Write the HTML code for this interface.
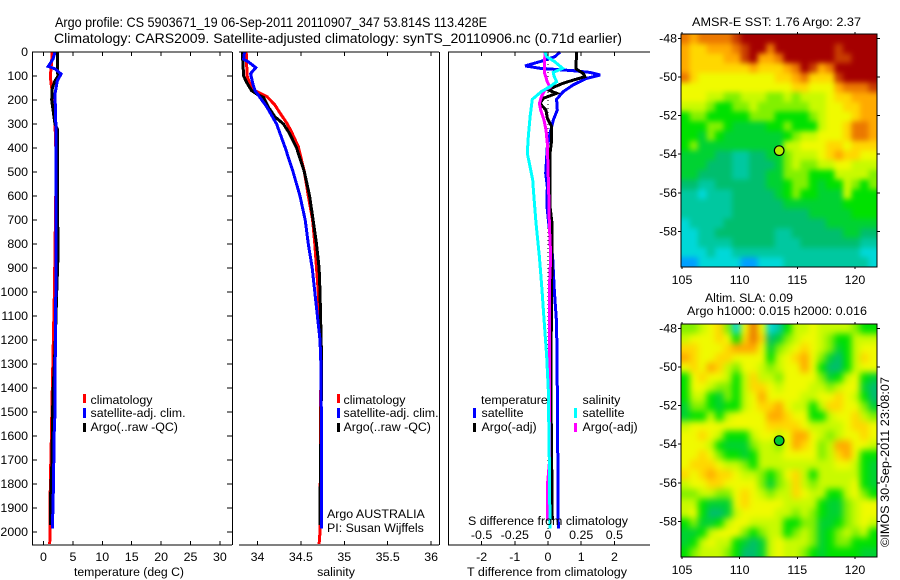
<!DOCTYPE html>
<html><head><meta charset="utf-8"><title>Argo profile</title>
<style>
html,body{margin:0;padding:0;background:#fff;}
svg{display:block;}
text{font-family:"Liberation Sans",sans-serif;font-size:12.4px;fill:#000;}
.t{font-size:13.6px;}
</style></head>
<body>
<svg id="chart" width="900" height="580" viewBox="0 0 900 580" xmlns="http://www.w3.org/2000/svg">
<defs>
<filter id="soft-sst" x="-10%" y="-10%" width="120%" height="120%" color-interpolation-filters="sRGB"><feGaussianBlur stdDeviation="2.6"/></filter>
<filter id="soft-sla" x="-10%" y="-10%" width="120%" height="120%" color-interpolation-filters="sRGB"><feGaussianBlur stdDeviation="3.4"/></filter>
<clipPath id="clip-sst"><rect x="681" y="34" width="196" height="233"/></clipPath>
<clipPath id="clip-sla"><rect x="681" y="324" width="196" height="233"/></clipPath>
</defs>
<rect width="900" height="580" fill="#fff"/>
<text class="t" x="55" y="27" textLength="432" lengthAdjust="spacingAndGlyphs">Argo profile: CS 5903671_19 06-Sep-2011 20110907_347 53.814S 113.428E</text>
<text class="t" x="54" y="43" textLength="568" lengthAdjust="spacingAndGlyphs">Climatology: CARS2009. Satellite-adjusted climatology: synTS_20110906.nc (0.71d earlier)</text>
<g id="panels"></g>
<g id="maps"></g>

<g>
<rect x="83" y="394" width="3" height="9" fill="#f00"/>
<rect x="83" y="408" width="3" height="10" fill="#00f"/>
<rect x="83" y="423" width="3" height="9" fill="#000"/>
<text x="90.5" y="404">climatology</text>
<text x="90.5" y="417">satellite-adj. clim.</text>
<text x="90.5" y="431">Argo(..raw -QC)</text>
</g>
<g>
<rect x="337" y="394" width="3" height="9" fill="#f00"/>
<rect x="337" y="408" width="3" height="10" fill="#00f"/>
<rect x="337" y="423" width="3" height="9" fill="#000"/>
<text x="343.5" y="404">climatology</text>
<text x="343.5" y="417">satellite-adj. clim.</text>
<text x="343.5" y="431">Argo(..raw -QC)</text>
<text x="327" y="518">Argo AUSTRALIA</text>
<text x="327" y="532">PI: Susan Wijffels</text>
</g>
<g>
<rect x="473" y="408" width="3" height="10" fill="#00f"/>
<rect x="473" y="423" width="3" height="9" fill="#000"/>
<rect x="574" y="408" width="3" height="10" fill="#0ff"/>
<rect x="574" y="423" width="3" height="9" fill="#f0f"/>
<text x="481" y="404">temperature</text>
<text x="481.5" y="417">satellite</text>
<text x="481.5" y="431">Argo(-adj)</text>
<text x="582.5" y="404">salinity</text>
<text x="582.5" y="417">satellite</text>
<text x="582.5" y="431">Argo(-adj)</text>
<text x="468" y="525" textLength="160" lengthAdjust="spacingAndGlyphs">S difference from climatology</text>
</g>
<text x="74" y="576" textLength="110" lengthAdjust="spacingAndGlyphs">temperature (deg C)</text>
<text x="336" y="576" text-anchor="middle">salinity</text>
<text x="467" y="576" textLength="160" lengthAdjust="spacingAndGlyphs">T difference from climatology</text>
<text x="692" y="26" textLength="169" lengthAdjust="spacingAndGlyphs">AMSR-E SST: 1.76 Argo: 2.37</text>
<text x="705" y="302" textLength="88" lengthAdjust="spacingAndGlyphs">Altim. SLA: 0.09</text>
<text x="687" y="315" textLength="180" lengthAdjust="spacingAndGlyphs">Argo h1000: 0.015 h2000: 0.016</text>
<text transform="translate(889,547) rotate(-90)" textLength="170" lengthAdjust="spacingAndGlyphs" x="0" y="0">©IMOS 30-Sep-2011 23:08:07</text>
</svg>
<script>
// ---- tick labels ----
const depthTicks = [0,100,200,300,400,500,600,700,800,900,1000,1100,1200,1300,1400,1500,1600,1700,1800,1900,2000];
const tempTicks = [0,5,10,15,20,25,30];
const salTicks = [34,34.5,35,35.5,36];
const salTickLabels = ['34','34.5','35','35.5','36'];
const tDiffTicks = [-2,-1,0,1,2];
const sDiffTicks = [-0.5,-0.25,0,0.25,0.5];
const sDiffTickLabels = ['-0.5','-0.25','0','0.25','0.5'];
const lonTicks = [105,110,115,120];
const latTicks = [-48,-50,-52,-54,-56,-58];
const argoLon = 113.428;
const argoLat = -53.814;

// ---- temperature profiles ----
const climTempDepth = [0,20,50,75,100,125,150,175,200,250,300,400,500,1000,1400,1600,1800,2000,2050];
const climTemp = [1.45,1.45,1.35,1.25,1.15,1.25,1.4,1.5,1.7,1.85,1.95,2.1,2.15,1.85,1.5,1.35,1.15,1.1,1.05];
const satTempDepth = [0,10,30,60,70,92,120,175,300,1000,1400,1500,1600,1800,1950,1985];
const satTemp = [1.85,1.85,1.6,0.8,1.95,3.0,2.35,1.95,2.1,2.1,1.95,1.95,1.8,1.7,1.55,1.5];
const argoTempDepth = [0,80,100,120,150,200,250,300,320,860,1000,1200,1300,1400,1500,1700,1850,1970];
const argoTemp = [2.35,2.35,2.5,1.95,1.5,1.4,1.67,1.95,2.35,2.45,2.25,2.0,1.85,1.65,1.55,1.45,1.2,1.15];

// ---- salinity profiles ----
const climSalDepth = [0,100,150,165,186,221,255,297,332,394,500,600,700,800,900,1000,1300,2000,2050];
const climSal = [33.87,33.88,33.93,33.99,34.11,34.2,34.26,34.34,34.39,34.47,34.54,34.585,34.635,34.66,34.68,34.7,34.73,34.72,34.71];
const satSalDepth = [0,30,40,65,90,130,160,190,230,300,400,500,600,700,800,900,1000,1200,1300,1500,1985];
const satSal = [33.85,33.84,33.89,33.98,33.92,33.945,33.97,34.03,34.11,34.22,34.32,34.41,34.49,34.55,34.585,34.63,34.66,34.72,34.73,34.735,34.735];
const argoSalDepth = [0,100,130,160,175,190,230,270,300,340,400,500,600,700,800,900,1000,1300,1900,1970];
const argoSal = [33.825,33.84,33.88,33.93,33.99,34.07,34.125,34.2,34.3,34.37,34.45,34.54,34.6,34.64,34.68,34.71,34.72,34.74,34.72,34.72];

// ---- difference profiles ----
const satTDiffDepth = [0,19,40,58,68,78,85,96,110,137,165,197,242,283,339,394,505,561,644,713,853,992,1130,1408,1985];
const satTDiff = [0.36,0.21,-0.24,-0.69,-0.24,0.76,1.26,1.57,1.16,0.76,0.46,0.26,0.28,0.16,0.06,-0.02,-0.07,-0.02,-0.03,0.02,0.14,0.19,0.26,0.28,0.31];
const argoTDiffDepth = [0,70,89,103,117,130,144,158,172,193,214,242,276,311,367,422,644,713,992,1269,1450,1950];
const argoTDiff = [0.86,0.84,1.06,1.11,0.76,0.46,0.21,0,0.26,-0.14,-0.24,-0.06,-0.02,0.11,0.11,0.06,0.06,0.12,0.11,0.09,0.09,0.13];
const satSDiffDepth = [0,19,40,68,85,100,124,144,165,197,269,353,422,464,533,575,713,853,992,1130,1269,1408,1700,1985];
const satSDiff = [-0.023,-0.01,0.05,0.11,0.04,0.045,0.065,0.015,-0.05,-0.118,-0.135,-0.148,-0.156,-0.14,-0.115,-0.11,-0.09,-0.065,-0.045,-0.028,-0.01,0.002,0.01,0.015];
const argoSDiffDepth = [0,33,89,124,147,158,186,214,242,283,325,380,644,713,853,992,1269,1700,1800,1950];
const argoSDiff = [-0.023,-0.025,-0.025,-0.005,0.015,-0.023,-0.05,-0.065,-0.055,-0.03,-0.015,-0.005,0.008,0.01,0.02,0.01,0.01,0.012,-0.004,-0.004];

// ---- map grids: colour-level values, north to south, 105E to 122E ----
const sstGrid = [
[11,10,11,11,11,11,12,13,13,13,13,13,13,13,13,13,13,13,13,13,13,13,13],
[10,9,9,10,10,10,11,12,13,13,11,13,13,13,13,13,13,13,12,13,13,13,13],
[10,9,9,9,9,10,10,12,13,10,10,11,13,13,13,13,13,13,12,12,13,13,13],
[10,9,9,9,9,9,9,9,10,9,9,9,10,11,13,12,10,11,13,13,13,13,13],
[11,9,8,8,8,8,8,8,8,8,8,9,9,10,11,9,9,9,12,13,13,13,13],
[8,8,8,8,8,8,8,8,8,8,8,8,8,9,9,8,8,8,10,11,11,11,12],
[8,8,8,7,7,6,6,7,7,7,6,6,7,6,7,7,7,8,9,9,10,10,10],
[7,7,7,6,5,5,6,6,7,6,6,6,6,6,6,7,7,8,8,9,9,10,10],
[5,6,6,5,5,5,5,5,6,6,6,5,5,5,5,6,7,8,8,8,9,10,10],
[5,5,5,6,6,5,4,4,4,4,5,5,6,5,5,5,7,8,8,9,11,11,10],
[5,5,4,6,5,4,4,4,4,4,4,4,5,6,7,7,8,8,8,9,11,11,10],
[5,6,4,4,4,4,4,4,4,4,4,4,7,7,8,8,8,9,9,8,9,9,9],
[4,4,4,4,3,3,2,2,3,3,4,4,6,7,7,7,8,9,10,9,9,8,8],
[4,4,4,3,3,3,2,2,3,3,3,4,6,7,6,6,7,7,8,8,7,7,7],
[4,4,3,3,3,3,2,2,3,3,4,4,6,6,6,5,5,5,7,7,7,7,6],
[3,3,2,2,3,3,3,3,3,3,4,4,5,6,6,5,4,5,5,7,6,5,6],
[2,2,1,2,2,2,3,3,3,3,3,4,5,6,5,5,4,4,4,7,5,5,5],
[2,2,2,2,2,2,3,3,3,3,3,3,4,4,4,4,4,4,4,5,5,5,5],
[2,2,2,2,2,2,3,3,3,3,3,3,3,3,3,4,4,4,4,4,5,5,5],
[1,2,2,2,2,3,3,3,3,3,3,3,3,3,3,3,3,4,4,4,4,4,4],
[1,1,2,2,3,3,3,3,3,3,3,2,2,3,3,3,3,3,3,4,4,3,3],
[1,1,2,2,2,2,3,3,3,3,3,2,2,2,3,3,3,3,3,3,3,2,2],
[1,1,1,2,1,1,2,2,2,2,2,2,2,2,2,2,2,2,2,2,2,1,1],
[0,0,1,1,1,1,1,0,0,1,1,1,2,2,2,2,2,2,2,2,2,2,1]
];
const slaGrid = [
[6,6,7,8,9,6,1,8,11,8,1,2,5,7,7,8,7,7,7,7,6,5,5],
[7,8,8,8,9,8,5,9,11,9,3,4,6,7,8,8,7,6,5,5,7,7,7],
[9,9,8,8,8,9,10,10,10,8,4,6,7,8,9,8,7,6,4,5,7,8,8],
[10,9,8,8,9,9,8,8,8,8,5,7,8,9,10,8,6,4,3,5,7,9,8],
[8,9,8,10,9,7,6,8,8,7,6,7,8,8,10,8,5,3,3,5,7,8,8],
[5,8,9,8,8,7,5,7,9,7,7,6,8,8,8,8,6,4,5,7,8,5,4],
[5,8,8,7,6,6,5,7,9,9,8,7,8,8,8,7,7,6,7,8,8,4,3],
[5,7,7,5,4,6,5,7,8,10,8,8,8,8,7,7,8,8,9,8,7,5,3],
[4,6,6,5,4,5,5,7,8,9,9,10,8,7,7,5,7,9,9,8,8,6,4],
[4,5,5,7,5,7,8,8,8,8,10,10,9,8,8,5,5,7,8,8,9,7,6],
[7,8,8,8,8,8,8,8,8,8,9,9,9,9,8,7,7,7,7,8,9,9,8],
[8,8,9,8,7,5,5,5,7,8,8,7,8,10,10,8,7,6,7,8,8,9,8],
[8,8,8,7,5,4,4,4,6,7,7,6,8,10,9,8,6,7,10,10,8,8,7],
[8,8,9,8,6,5,5,4,5,7,7,7,8,8,8,8,6,7,9,10,8,5,5],
[8,9,9,9,8,7,7,6,5,7,7,7,7,7,7,7,7,7,8,8,7,5,4],
[9,8,9,10,9,9,8,7,7,6,5,6,8,9,7,5,7,7,7,7,7,5,4],
[7,8,8,9,9,8,8,8,8,6,4,6,7,9,7,6,7,7,7,7,8,5,4],
[6,6,7,7,6,6,8,9,8,7,6,7,7,9,8,7,7,5,5,7,8,6,5],
[7,7,5,4,4,4,8,9,8,8,8,8,7,7,7,7,5,4,4,6,7,8,8],
[7,8,5,3,3,4,7,8,8,8,8,7,7,6,7,6,5,4,4,6,7,8,8],
[5,6,4,4,5,7,8,8,7,7,7,7,5,5,6,6,4,4,5,6,7,8,7],
[4,4,5,7,8,8,8,6,5,6,7,7,5,6,7,6,4,5,6,7,6,7,5],
[4,5,7,8,7,7,5,4,3,4,7,8,7,7,7,6,4,5,6,6,5,5,5],
[5,6,7,7,7,6,5,3,3,4,7,8,7,7,6,5,4,5,5,5,5,4,4]
];

const NS = 'http://www.w3.org/2000/svg';
function mk(parent, tag, attrs, txt) {
  const el = document.createElementNS(NS, tag);
  for (const k in attrs) el.setAttribute(k, attrs[k]);
  if (txt !== undefined) el.textContent = txt;
  parent.appendChild(el);
  return el;
}
function colourOf(v) {
  const stops = ['#00a0ff','#00d8d8','#00c8a0','#00be6e','#00d232','#00e100','#82f000','#c8fa00','#f0fa00','#ffd700','#ffaa00','#eb7800','#c83c00','#a50000'];
  const i = Math.max(0, Math.min(stops.length - 1, Math.round(v)));
  return stops[i];
}
const TOP = 52, BOTTOM = 545;
function yDepth(d) { return TOP + d * 0.24; }
function xTemp(t) { return 43.5 + t * 5.88; }
function xSal(s) { return 257.5 + (s - 34) * 86.8; }
function xTDiff(t) { return 548 + t * 33.2; }
function xSDiff(s) { return 548 + s * 132.8; }

const panels = document.getElementById('panels');

function hLine(p, x1, x2, y) {
  const l = mk(p, 'line', {x1:x1, x2:x2, y1:y, y2:y, stroke:'#000', 'stroke-width':1.4, 'shape-rendering':'crispEdges'});
  
  
}
function vLine(p, x, y1, y2) {
  const l = mk(p, 'line', {x1:x, x2:x, y1:y1, y2:y2, stroke:'#000', 'stroke-width':1.4, 'shape-rendering':'crispEdges'});
  
  
}
function tick(p, x1, y1, x2, y2) {
  const l = mk(p, 'line', {x1:x1, y1:y1, x2:x2, y2:y2, stroke:'#000', 'stroke-width':1, 'shape-rendering':'crispEdges'});
  
  
}
function label(p, x, y, s, anchor) {
  const t = mk(p, 'text', {x:x, y:y, 'text-anchor':anchor}, s);
  
  
}
function profile(p, name, colour, depths, values, xf) {
  const pts = depths.map((d, i) => xf(values[i]).toFixed(1) + ',' + yDepth(d).toFixed(1)).join(' ');
  const l = mk(p, 'polyline', {points:pts, fill:'none', stroke:colour, 'stroke-width':3, 'stroke-linejoin':'miter', 'shape-rendering':'crispEdges'});
  
  
}

// Temperature panel
const p1 = mk(panels, 'g', {});


profile(p1, 'temperature-climatology-line', '#f00', climTempDepth, climTemp, xTemp);
profile(p1, 'temperature-argo-line', '#000', argoTempDepth, argoTemp, xTemp);
profile(p1, 'temperature-satellite-line', '#00f', satTempDepth, satTemp, xTemp);
hLine(p1, 32, 232, TOP); hLine(p1, 32, 232, BOTTOM); vLine(p1, 32.5, TOP, BOTTOM); vLine(p1, 232.5, TOP, BOTTOM);
depthTicks.forEach(d => {
  tick(p1, 32, yDepth(d), 37, yDepth(d));
  tick(p1, 227, yDepth(d), 232, yDepth(d));
  label(p1, 28, yDepth(d) + 4, String(d), 'end');
});
tempTicks.forEach(t => {
  tick(p1, xTemp(t), TOP, xTemp(t), TOP + 4);
  tick(p1, xTemp(t), BOTTOM, xTemp(t), BOTTOM - 4);
  label(p1, xTemp(t), 561, String(t), 'middle');
});

// Salinity panel
const p2 = mk(panels, 'g', {});


profile(p2, 'salinity-climatology-line', '#f00', climSalDepth, climSal, xSal);
profile(p2, 'salinity-argo-line', '#000', argoSalDepth, argoSal, xSal);
profile(p2, 'salinity-satellite-line', '#00f', satSalDepth, satSal, xSal);
hLine(p2, 239, 439, TOP); hLine(p2, 239, 439, BOTTOM); vLine(p2, 439.5, TOP, BOTTOM);
salTicks.forEach((s, i) => {
  tick(p2, xSal(s), TOP, xSal(s), TOP + 4);
  tick(p2, xSal(s), BOTTOM, xSal(s), BOTTOM - 4);
  label(p2, xSal(s), 561, salTickLabels[i], 'middle');
});

// Difference panel
const p3 = mk(panels, 'g', {});


const zero = mk(p3, 'line', {x1:xTDiff(0), x2:xTDiff(0), y1:TOP, y2:yDepth(2000), stroke:'#000', 'stroke-width':1, 'stroke-dasharray':'1 3', 'shape-rendering':'crispEdges'});


profile(p3, 'temperature-satellite-difference-line', '#00f', satTDiffDepth, satTDiff, xTDiff);
profile(p3, 'temperature-argo-difference-line', '#000', argoTDiffDepth, argoTDiff, xTDiff);
profile(p3, 'salinity-argo-difference-line', '#f0f', argoSDiffDepth, argoSDiff, xSDiff);
profile(p3, 'salinity-satellite-difference-line', '#0ff', satSDiffDepth, satSDiff, xSDiff);
hLine(p3, 448, 650, TOP); hLine(p3, 448, 650, BOTTOM); vLine(p3, 448.5, TOP, BOTTOM);
tDiffTicks.forEach(t => {
  tick(p3, xTDiff(t), TOP, xTDiff(t), TOP + 4);
  tick(p3, xTDiff(t), BOTTOM, xTDiff(t), BOTTOM - 4);
  label(p3, xTDiff(t), 561, String(t), 'middle');
});
sDiffTicks.forEach((s, i) => {
  label(p3, xSDiff(s), 539, sDiffTickLabels[i], 'middle');
});

// Maps
const maps = document.getElementById('maps');
function xLon(lon) { return 682 + (lon - 105) * 11.53; }
function drawMap(name, grid, top, clipId, filterId, marker) {
  const bottom = top + 233, left = 681, right = 877;
  const yLat = lat => top + 4.3 + (-48 - lat) * 19.32;
  const g = mk(maps, 'g', {'clip-path':'url(#' + clipId + ')'});
  
  
  const inner = mk(g, 'g', {filter:'url(#' + filterId + ')'});
  const rows = grid.length, cols = grid[0].length;
  const cw = (right - left) / cols, ch = (bottom - top) / rows;
  grid.forEach((row, r) => row.forEach((v, c) => {
    const x0 = c === 0 ? left - 12 : left + c * cw;
    const x1 = c === cols - 1 ? right + 12 : left + (c + 1) * cw + 0.5;
    const y0 = r === 0 ? top - 12 : top + r * ch;
    const y1 = r === rows - 1 ? bottom + 12 : top + (r + 1) * ch + 0.5;
    const cell = mk(inner, 'rect', {x:x0.toFixed(2), y:y0.toFixed(2), width:(x1 - x0).toFixed(2), height:(y1 - y0).toFixed(2), fill:colourOf(v)});
    
    
  }));
  const frame = mk(maps, 'rect', {x:left, y:top, width:right - left, height:bottom - top, fill:'none', stroke:'#000', 'stroke-width':1, 'shape-rendering':'crispEdges'});
  
  
  lonTicks.forEach(l => {
    tick(maps, xLon(l), top - 2, xLon(l), top);
    tick(maps, xLon(l), bottom, xLon(l), bottom + 2);
    label(maps, xLon(l), bottom + 17, String(l), 'middle');
  });
  latTicks.forEach(l => {
    tick(maps, left - 3, yLat(l), left, yLat(l));
    tick(maps, right, yLat(l), right + 3, yLat(l));
    label(maps, left - 4, yLat(l) + 4, String(l), 'end');
  });
  const dot = mk(maps, 'circle', {cx:xLon(argoLon), cy:yLat(argoLat), r:4.8, fill:marker, stroke:'#000', 'stroke-width':1.2});
  
  
}
drawMap('sst-map', sstGrid, 34, 'clip-sst', 'soft-sst', '#b4f000');
drawMap('sla-map', slaGrid, 324, 'clip-sla', 'soft-sla', '#00c832');
</script>
</body></html>
